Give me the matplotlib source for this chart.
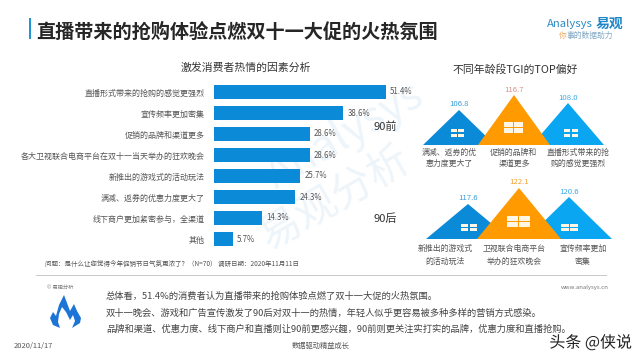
import matplotlib
matplotlib.use('Agg')
from matplotlib import pyplot as plt
from matplotlib import patheffects
from matplotlib.patches import Polygon, Rectangle

plt.rcParams['font.family'] = ['Noto Sans CJK SC', 'DejaVu Sans']

# bar chart data
factors = ['直播形式带来的抢购的感觉更强烈', '宣传频率更加密集', '促销的品牌和渠道更多',
           '各大卫视联合电商平台在双十一当天举办的狂欢晚会', '新推出的游戏式的活动玩法',
           '满减、返券的优惠力度更大了', '线下商户更加紧密参与，全渠道', '其他']
shares = [51.4, 38.6, 28.6, 28.6, 25.7, 24.3, 14.3, 5.7]

# TGI houses, top row is 90前, bottom row is 90后
top_tgi = [106.8, 116.7, 108.0]
top_labels = ['满减、返券的优\n惠力度更大了', '促销的品牌和\n渠道更多', '直播形式带来的抢\n购的感觉更强烈']
bottom_tgi = [117.6, 122.1, 120.6]
bottom_labels = ['新推出的游戏式\n的活动玩法', '卫视联合电商平台\n举办的狂欢晚会', '宣传频率更加\n密集']

body_lines = ['总体看，51.4%的消费者认为直播带来的抢购体验点燃了双十一大促的火热氛围。',
              '双十一晚会、游戏和广告宣传激发了90后对双十一的热情，年轻人似乎更容易被多种多样的营销方式感染。',
              '品牌和渠道、优惠力度、线下商户和直播则让90前更感兴趣，90前则更关注实打实的品牌，优惠力度和直播抢购。']

DARK = '#333333'
GREY = '#555555'
BLUE = '#0B8AD8'
SKY = '#0AA6F2'
ORANGE = '#FF9A00'

fig = plt.figure(figsize=(6.4, 3.6), dpi=100, facecolor='white')

# whole figure in pixel coordinates for the page furniture
page = fig.add_axes([0, 0, 1, 1])
page.set_xlim(0, 640)
page.set_ylim(360, 0)
page.axis('off')


def house(cx, half_w, base, height, color, win_w, win_h, win_cx, win_cy, value, val_color, label, label_y, label_cx, spacing):
    page.add_patch(Polygon([(cx - half_w, base), (cx, base - height), (cx + half_w, base)],
                           closed=True, facecolor=color, edgecolor='none'))
    gap = 1.2
    for sx in (-1, 1):
        for sy in (-1, 1):
            x0 = win_cx + (gap / 2 if sx > 0 else -win_w / 2)
            y0 = win_cy + (gap / 2 if sy > 0 else -win_h / 2)
            page.add_patch(Rectangle((x0, y0), win_w / 2 - gap / 2, win_h / 2 - gap / 2,
                                     facecolor='#FFF6E6', edgecolor='none'))
    page.text(cx, base - height - 1.5, f'{value:.1f}', color=val_color, fontsize=5.6, ha='center', va='bottom')
    page.text(label_cx, label_y, label, color=GREY, fontsize=5.7, ha='center', va='center', linespacing=spacing)


# watermark goes under everything else
page.text(345, 135, 'Analysys', color='#EDF5FB', fontsize=31, rotation=30, ha='center', va='center',
          style='italic', zorder=0)
page.text(335, 198, '易观分析', color='#EDF5FB', fontsize=30, rotation=30, ha='center', va='center', zorder=0)

# title block
page.add_patch(Rectangle((29, 18), 2, 21, facecolor='#1E96D6', edgecolor='none'))
page.text(36, 32, '直播带来的抢购体验点燃双十一大促的火热氛围', color='#262626', fontsize=13.8,
          fontweight='bold', va='center', ha='left')

# logo
page.text(547, 24, 'Analysys', color='#2E8CC4', fontsize=8.2, style='italic', va='center', ha='left')
page.text(596, 24, '易观', color='#1F86C8', fontsize=10, fontweight='bold', va='center', ha='left')
page.text(559, 36, '你', color='#F0A860', fontsize=5.6, va='center', ha='left')
page.text(567, 36, '事的数据助力', color='#7FA8C4', fontsize=5.6, style='italic', va='center', ha='left')

page.text(246, 68, '激发消费者热情的因素分析', color=DARK, fontsize=7.8, ha='center', va='center')
page.text(515.5, 69, '不同年龄段TGI的TOP偏好', color=DARK, fontsize=7.8, ha='center', va='center')
page.text(385, 127, '90前', color=DARK, fontsize=8, ha='center', va='center')
page.text(385, 219, '90后', color=DARK, fontsize=8, ha='center', va='center')

# bars on their own axes, 21px per row
ax = fig.add_axes([214 / 640, 1 - 249.5 / 360, 200.8 / 640, 168 / 360])
ax.patch.set_alpha(0)
ax.barh(range(len(shares)), shares, height=0.62, color=BLUE)
ax.set_xlim(0, 60)
ax.set_ylim(len(shares) - 0.5, -0.5)
ax.set_yticks(range(len(factors)))
ax.set_yticklabels(factors, fontsize=5.75, color=GREY)
ax.set_xticks([])
ax.tick_params(axis='y', length=0, pad=6.5)
for spine in ax.spines.values():
    spine.set_visible(False)
for i, v in enumerate(shares):
    ax.annotate(f'{v}%', (v, i), xytext=(3, 0), textcoords='offset points', fontsize=5.7, color=GREY, va='center')

# houses, the heights are picture sizes and not a scale of the TGI
house(459, 36, 145, 35, BLUE, 13, 8, 457.5, 133, top_tgi[0], '#3B9BD6', top_labels[0], 158, 449, 1.25)
house(568, 36, 145, 42, SKY, 14, 8, 571, 133, top_tgi[2], '#3BAAE8', top_labels[2], 158, 578, 1.25)
house(514, 36, 145, 50, ORANGE, 19, 11, 513.5, 127.5, top_tgi[1], '#D9928C', top_labels[1], 158, 514, 1.25)
house(468, 42, 239, 35, BLUE, 16, 7, 469, 227.5, bottom_tgi[0], '#3B9BD6', bottom_labels[0], 255, 445, 1.5)
house(569, 43, 239, 42, SKY, 17, 7, 569.5, 227.5, bottom_tgi[2], '#3BAAE8', bottom_labels[2], 255, 583, 1.5)
house(519, 42, 239, 51, ORANGE, 23, 11, 518.5, 221.5, bottom_tgi[1], '#F0A030', bottom_labels[1], 255, 514, 1.5)

# footer
page.text(45, 264, '问题：是什么让您觉得今年促销节日气氛更浓了？（N=70） 调研日期：2020年11月11日',
          color=GREY, fontsize=4.7, ha='left', va='center')
page.plot([36, 606], [275, 275], color='#C8C8C8', lw=0.7)
page.text(47, 287, '© 易观分析', color='#777777', fontsize=3.8, ha='left', va='center')
page.text(609, 287, 'www.analysys.cn', color='#777777', fontsize=4.3, ha='right', va='center')
for y, line in zip([296, 313, 329], body_lines):
    page.text(106, y, line, color='#444444', fontsize=6.7, ha='left', va='center')
page.add_patch(Polygon([(64, 295), (67, 303), (70, 311), (74, 304), (77, 311), (81, 318), (80, 323), (72, 328),
                        (75, 321), (73, 315), (70, 320), (66, 312), (62, 307), (59, 314), (58, 322), (60, 328),
                        (53, 325), (50, 318), (53, 312), (56, 316), (59, 305)],
                       closed=True, facecolor='#1C74D6', edgecolor='none'))
page.text(14, 346, '2020/11/17', color=GREY, fontsize=5.4, ha='left', va='center')
page.text(321, 346, '数据驱动精益成长', color=GREY, fontsize=5.2, ha='center', va='center')
page.text(632, 343, '头条 @侠说', color='#222222', fontsize=11.5, ha='right', va='center',
          path_effects=[patheffects.withStroke(linewidth=2, foreground='white')])

fig.savefig('out.png', dpi=100, facecolor='white')
